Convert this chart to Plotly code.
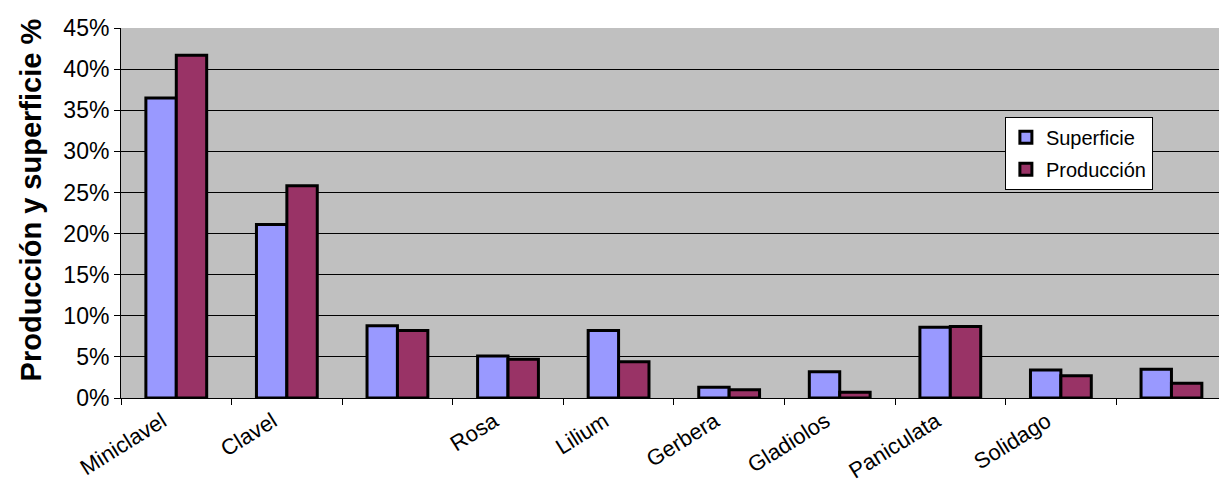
import plotly.graph_objects as go

# Flower crops (two categories have no printed label)
categories = ["Miniclavel", "Clavel", " ", "Rosa", "Lilium", "Gerbera",
              "Gladiolos", "Paniculata", "Solidago", "  "]

# Share of cultivated surface and of production, in %
superficie = [36.5, 21.1, 8.8, 5.1, 8.2, 1.3, 3.2, 8.6, 3.4, 3.5]
produccion = [41.7, 25.8, 8.2, 4.7, 4.4, 1.0, 0.7, 8.7, 2.7, 1.8]

y_ticks = [0, 5, 10, 15, 20, 25, 30, 35, 40, 45]
y_tick_labels = [f"{v}%" for v in y_ticks]

FONT = "Liberation Sans, Arial, sans-serif"

fig = go.Figure()
fig.add_trace(go.Bar(
    name="Superficie", x=categories, y=superficie,
    marker=dict(color="#9999FF", line=dict(color="#000000", width=3)),
    legendgroup="a",
))
fig.add_trace(go.Bar(
    name="Producción", x=categories, y=produccion,
    marker=dict(color="#993366", line=dict(color="#000000", width=3)),
    legendgroup="b",
))

fig.update_layout(
    width=1219, height=495,
    margin=dict(l=121, r=0, t=28, b=97),
    paper_bgcolor="white",
    plot_bgcolor="#C0C0C0",
    barmode="group",
    bargap=0.45,
    bargroupgap=0,
    font=dict(family=FONT, color="black", size=20),
    showlegend=True,
    legend=dict(
        x=0.805, y=0.76, xanchor="left", yanchor="top",
        bgcolor="white", bordercolor="black", borderwidth=1,
        font=dict(family=FONT, size=20, color="black"),
        tracegroupgap=3,
        itemwidth=30,
    ),
)

fig.update_xaxes(
    type="category",
    range=[-0.5, 9.43],
    automargin=False,
    tickson="boundaries",
    ticks="outside", ticklen=6, tickcolor="black",
    tickangle=-32,
    ticklabelstandoff=1,
    ticklabelshift=-14,
    tickfont=dict(family=FONT, size=22, color="black"),
    showline=True, linecolor="black", linewidth=1,
    showgrid=False,
)

fig.update_yaxes(
    range=[0, 45],
    automargin=False,
    tickmode="array", tickvals=y_ticks, ticktext=y_tick_labels,
    ticks="outside", ticklen=6, tickcolor="black",
    tickfont=dict(family=FONT, size=23, color="black"),
    showline=True, linecolor="black", linewidth=1,
    showgrid=True, gridcolor="black", gridwidth=1,
    zeroline=False,
)

fig.add_annotation(
    text="<b>Producción y superficie %</b>",
    xref="paper", yref="paper", x=0, y=0.534,
    xanchor="center", yanchor="middle",
    xshift=-90, textangle=-90, showarrow=False,
    font=dict(family=FONT, size=29, color="black"),
)

fig.write_html("out.html")
